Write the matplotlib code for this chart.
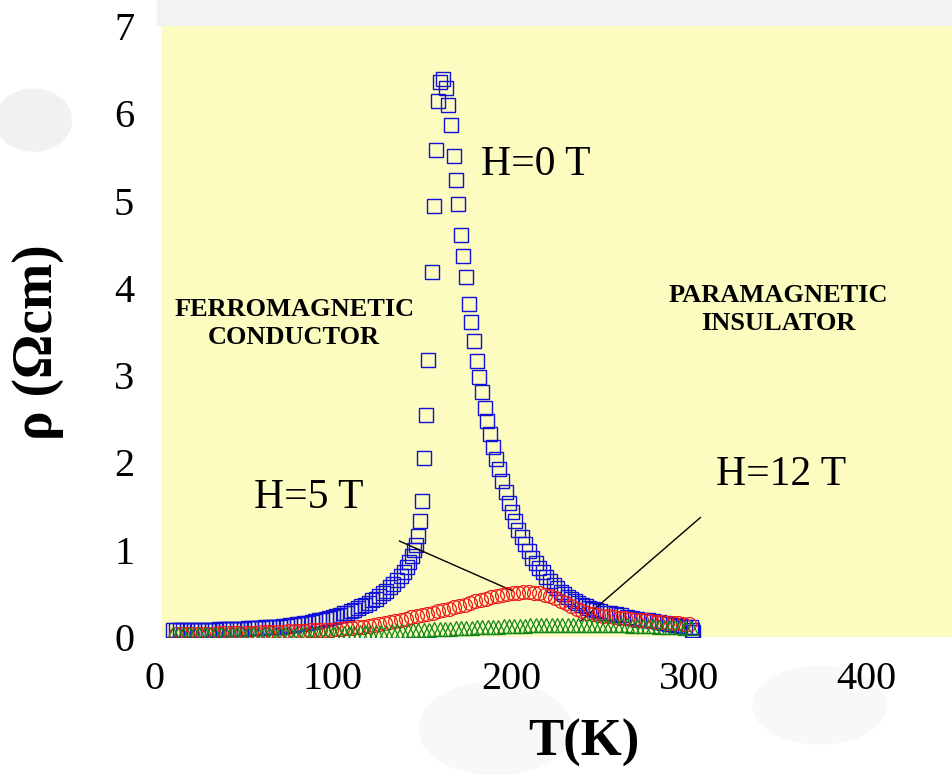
import matplotlib.pyplot as plt
from matplotlib.patches import Rectangle, Circle, Ellipse

# rho(T) of a manganite at three fields

# H = 0 T (blue squares)
t_h0 = [10, 12, 14, 16, 18, 20, 22, 24, 26, 28, 30, 32, 34, 36, 38, 40, 42, 44, 46, 48,
        50, 52, 54, 56, 58, 60, 62, 64, 66, 68, 70, 72, 74, 76, 78, 80, 82, 84, 86, 88,
        90, 92, 94, 96, 98, 100, 102, 104, 106, 108, 110, 112, 114, 116, 118, 120, 122, 124, 126, 128,
        130, 132, 134, 136, 138, 140, 141.5, 143, 144.5, 145.5, 146.6, 147.8, 148.9, 150, 151.2, 152.2, 153.4, 155.6, 156.7, 158,
        159, 160.2, 161.6, 163.3, 164.6, 166.3, 168, 169.2, 170.2, 171.8, 173, 174.6, 176.3, 177.8, 179.2, 180.8, 182, 183.6, 185.2, 186.5,
        188, 189.8, 191.6, 193.4, 195.2, 197, 198.8, 200.6, 202.4, 204.2, 206, 208, 210, 212, 214, 216, 218, 220, 222, 224,
        226, 228, 230, 232, 234, 236, 238, 240, 242, 244, 246, 248, 250, 253, 256, 259, 262, 265, 268, 271,
        274, 277, 280, 283, 286, 289, 292, 295, 298, 301, 302, 302.5]
rho_h0 = [0.08, 0.08, 0.08, 0.08, 0.08, 0.08, 0.08, 0.08, 0.085, 0.085, 0.085, 0.085, 0.085, 0.09, 0.09, 0.09, 0.09, 0.09, 0.095, 0.095,
          0.095, 0.10, 0.10, 0.10, 0.10, 0.105, 0.11, 0.11, 0.115, 0.12, 0.12, 0.125, 0.13, 0.135, 0.14, 0.145, 0.15, 0.16, 0.165, 0.17,
          0.18, 0.19, 0.20, 0.21, 0.22, 0.23, 0.24, 0.255, 0.27, 0.28, 0.30, 0.315, 0.33, 0.35, 0.37, 0.39, 0.42, 0.44, 0.47, 0.50,
          0.53, 0.57, 0.61, 0.65, 0.70, 0.75, 0.80, 0.86, 0.93, 1.00, 1.05, 1.16, 1.33, 1.56, 2.05, 2.54, 3.17, 4.18, 4.94, 5.58,
          6.14, 6.36, 6.39, 6.29, 6.10, 5.87, 5.51, 5.24, 4.96, 4.61, 4.36, 4.12, 3.82, 3.61, 3.39, 3.16, 2.98, 2.81, 2.62, 2.47,
          2.32, 2.18, 2.04, 1.92, 1.79, 1.66, 1.54, 1.43, 1.33, 1.23, 1.14, 1.06, 0.98, 0.91, 0.85, 0.79, 0.74, 0.69, 0.64, 0.60,
          0.56, 0.52, 0.49, 0.46, 0.43, 0.41, 0.39, 0.37, 0.35, 0.33, 0.32, 0.31, 0.30, 0.28, 0.27, 0.26, 0.25, 0.23, 0.22, 0.21,
          0.20, 0.19, 0.18, 0.17, 0.16, 0.15, 0.14, 0.13, 0.12, 0.11, 0.08, 0.06]

# H = 5 T (red circles)
t_h5 = [12, 15, 18, 21, 24, 27, 30, 33, 36, 39, 42, 45, 48, 51, 54, 57, 60, 63, 66, 69,
        72, 75, 78, 81, 84, 87, 90, 93, 96, 99, 102, 105, 108, 111, 114, 117, 120, 123, 126, 129,
        132, 135, 138, 141, 144, 147, 150, 153, 156, 159, 162, 165, 168, 171, 174, 177, 180, 183, 186, 189,
        192, 195, 198, 201, 204, 207, 210, 213, 216, 219, 222, 225, 228, 231, 234, 237, 240, 243, 246, 249,
        252, 255, 258, 261, 264, 267, 270, 273, 276, 279, 282, 285, 288, 291, 294, 297, 300]
rho_h5 = [0.04, 0.04, 0.04, 0.04, 0.04, 0.04, 0.04, 0.04, 0.045, 0.045, 0.045, 0.045, 0.05, 0.05, 0.05, 0.05, 0.055, 0.055, 0.06, 0.06,
          0.06, 0.065, 0.065, 0.07, 0.07, 0.075, 0.075, 0.08, 0.08, 0.085, 0.09, 0.095, 0.10, 0.105, 0.11, 0.12, 0.13, 0.14, 0.15, 0.165,
          0.175, 0.185, 0.20, 0.21, 0.225, 0.24, 0.25, 0.265, 0.28, 0.295, 0.31, 0.325, 0.34, 0.355, 0.37, 0.39, 0.41, 0.425, 0.44, 0.455,
          0.47, 0.48, 0.49, 0.50, 0.505, 0.51, 0.51, 0.505, 0.50, 0.485, 0.47, 0.445, 0.415, 0.385, 0.355, 0.325, 0.30, 0.28, 0.265, 0.25,
          0.24, 0.235, 0.225, 0.22, 0.215, 0.205, 0.20, 0.195, 0.19, 0.18, 0.175, 0.17, 0.165, 0.16, 0.155, 0.15, 0.145]

# H = 12 T (green triangles)
t_h12 = [10, 13, 16, 19, 22, 25, 28, 31, 34, 37, 40, 43, 46, 49, 52, 55, 58, 61, 64, 67,
         70, 73, 76, 79, 82, 85, 88, 91, 94, 97, 100, 103, 106, 109, 112, 115, 118, 121, 124, 127,
         130, 133, 136, 139, 142, 145, 148, 151, 154, 157, 160, 163, 166, 169, 172, 175, 178, 181, 184, 187,
         190, 193, 196, 199, 202, 205, 208, 211, 214, 217, 220, 223, 226, 229, 232, 235, 238, 241, 244, 247,
         250, 253, 256, 259, 262, 265, 268, 271, 274, 277, 280, 283, 286, 289, 292, 295, 298, 301]
rho_h12 = [0.03, 0.03, 0.03, 0.03, 0.03, 0.03, 0.03, 0.03, 0.03, 0.03, 0.03, 0.03, 0.03, 0.03, 0.03, 0.03, 0.03, 0.032, 0.033, 0.034,
           0.035, 0.036, 0.037, 0.038, 0.039, 0.04, 0.04, 0.041, 0.042, 0.043, 0.044, 0.045, 0.046, 0.048, 0.05, 0.052, 0.054, 0.056, 0.058, 0.06,
           0.062, 0.065, 0.068, 0.07, 0.072, 0.075, 0.078, 0.08, 0.083, 0.086, 0.089, 0.092, 0.095, 0.098, 0.10, 0.103, 0.106, 0.109, 0.112, 0.115,
           0.118, 0.12, 0.123, 0.125, 0.127, 0.129, 0.131, 0.133, 0.135, 0.137, 0.138, 0.139, 0.14, 0.14, 0.14, 0.14, 0.14, 0.14, 0.139, 0.138,
           0.137, 0.136, 0.135, 0.134, 0.133, 0.132, 0.13, 0.128, 0.126, 0.124, 0.122, 0.12, 0.118, 0.115, 0.112, 0.11, 0.107, 0.105]

x_ticks = [0, 100, 200, 300, 400]
y_ticks = [0, 1, 2, 3, 4, 5, 6, 7]

# field labels and their leader lines (T, rho)
lbl_h0 = (214, 5.41)
lbl_h5 = (86.6, 1.60)
lbl_h12 = (351.6, 1.86)
lead_h5 = [(137.3, 1.10), (200.8, 0.53)]
lead_h12 = [(306.6, 1.37), (239.1, 0.18)]
lbl_ferro = (78.2, 3.59)
lbl_para = (350.5, 3.75)

plt.rcParams['font.family'] = ['Liberation Serif', 'DejaVu Serif']

fig = plt.figure(figsize=(9.53, 7.75), dpi=100)
fig.patch.set_facecolor('white')

# faint grey "molecule" backdrop, kept behind the axes
backdrop = [
    Rectangle((0.165, 0.968), 0.835, 0.032, color='#f2f2f2'),
    Circle((0.035, 0.845), 0.04, color='#f1f1f1'),
    Ellipse((0.52, 0.06), 0.16, 0.12, color='#f8f8f8'),
    Ellipse((0.86, 0.09), 0.14, 0.1, color='#f8f8f8'),
]
for p in backdrop:
    p.set_transform(fig.transFigure)
    p.set_zorder(-5)
    fig.patches.append(p)

ax = fig.add_axes([155 / 953, 138 / 775, 798 / 953, 611 / 775])
ax.set_zorder(1)
ax.set_facecolor('none')
ax.add_patch(Rectangle((4, 0), 500, 7, color='#fcfcc0', zorder=0))

ax.plot(t_h0, rho_h0, ls='none', marker='s', ms=9.4, mfc='none', mec='#1010d8', mew=1.0, zorder=3)
ax.plot(t_h5, rho_h5, ls='none', marker='o', ms=10, mfc='none', mec='#ee1c1c', mew=0.9, zorder=4)
ax.plot(t_h12, rho_h12, ls='none', marker='^', ms=9.5, mfc='none', mec='#12861a', mew=0.9, zorder=5)

for (x0, y0), (x1, y1) in [lead_h5, lead_h12]:
    ax.annotate('', xy=(x1, y1), xytext=(x0, y0),
                arrowprops=dict(arrowstyle='-', color='black', lw=1.0, shrinkA=0, shrinkB=0))

ax.text(*lbl_h0, 'H=0 T', fontsize=30, ha='center', va='center')
ax.text(*lbl_h5, 'H=5 T', fontsize=30, ha='center', va='center')
ax.text(*lbl_h12, 'H=12 T', fontsize=30, ha='center', va='center')
ax.text(*lbl_ferro, 'FERROMAGNETIC\nCONDUCTOR', fontsize=19, fontweight='bold',
        ha='center', va='center', linespacing=1.25)
ax.text(*lbl_para, 'PARAMAGNETIC\nINSULATOR', fontsize=19, fontweight='bold',
        ha='center', va='center', linespacing=1.25)

ax.set_xlim(0, 448.5)
ax.set_ylim(0, 7)
ax.set_xticks(x_ticks)
ax.set_yticks(y_ticks)
ax.tick_params(length=0, labelsize=29)
ax.tick_params(axis='x', pad=17)
ax.tick_params(axis='y', pad=15)
for s in ax.spines.values():
    s.set_visible(False)

ax.set_xlabel('T(K)', fontsize=38, fontweight='bold', va='center')
ax.xaxis.set_label_coords(0.538, -0.173)
ax.set_ylabel('ρ (Ωcm)', fontsize=40, fontweight='bold', va='center')
ax.yaxis.set_label_coords(-0.147, 0.483)

fig.savefig('out.png', dpi=100)
